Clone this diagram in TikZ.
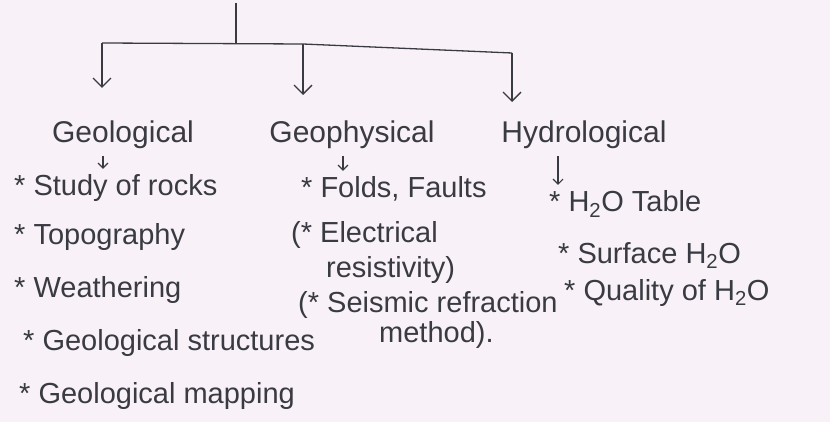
\documentclass[tikz,border=0pt]{standalone}
\usepackage{fontspec}
\setmainfont{Liberation Sans}
\usetikzlibrary{arrows.meta, positioning}
\definecolor{paperbg}{HTML}{F8F2F8}
\definecolor{inkcol}{HTML}{3A3A42}

\begin{document}
\begin{tikzpicture}[
    x=1pt, y=-1pt,
    >={Straight Barb[length=9pt, width=18pt]},
    % 1. branch headings
    heading/.style={
        anchor=base,
        inner sep=1pt,
        text=inkcol,
        font=\fontsize{30}{34}\selectfont,
        text height=22pt,
        text depth=7pt
    },
    % 2. bullet items
    item/.style={
        anchor=base west,
        inner sep=1pt,
        text=inkcol,
        font=\fontsize{29}{33}\selectfont,
        text height=21pt,
        text depth=6pt
    },
    % tree lines
    treeline/.style={
        draw=inkcol,
        line width=1.3pt
    },
    treearrow/.style={
        ->,
        treeline
    },
    % short arrow under each heading
    smallarrow/.style={
        -{Straight Barb[length=5pt, width=10pt]},
        treeline,
        line width=1.1pt,
        shorten >=5pt,
        shorten <=5pt
    }
]

    % --- 0. page ---
    \fill[paperbg] (0,0) rectangle (830,422);
    \useasboundingbox (0,0) rectangle (830,422);

    % --- 1. tree skeleton ---
    \coordinate (top)   at (236,3);
    \coordinate (fork)  at (236,43);
    \coordinate (geoj)  at (102,43);
    \coordinate (physj) at (303,44);
    \coordinate (hydj)  at (512,53);
    \coordinate (geoa)  at (102,88);
    \coordinate (physa) at (303,95);
    \coordinate (hyda)  at (512,102);

    % --- 2. headings ---
    \node[heading] (geol) at (123,143) {Geological};
    \node[heading] (phys) at (352,143) {Geophysical};
    \node[heading] (hydr) at (584,143) {Hydrological};

    % --- 3. items ---
    % Geological
    \node[item] (rocks)  at (13,196)  {* Study of rocks};
    \node[item] (topo)   at (13,244)  {* Topography};
    \node[item] (weath)  at (13,297)  {* Weathering};
    \node[item] (struct) at (22,350)  {* Geological structures};
    \node[item] (mapp)   at (18,403)  {* Geological mapping};

    % Geophysical
    \node[item] (folds)  at (300,198) {* Folds, Faults};
    \node[item] (elec)   at (290,243) {(* Electrical};
    \node[item] (resist) at (325,277) {resistivity)};
    \node[item] (seism)  at (297,312) {(* Seismic refraction};
    \node[item] (meth)   at (378,342) {method).};

    % Hydrological
    \node[item] (table)  at (548,212) {* H\textsubscript{2}O Table};
    \node[item] (surf)   at (557,263) {* Surface H\textsubscript{2}O};
    \node[item] (qual)   at (563,300) {* Quality of H\textsubscript{2}O};

    % --- 4. connectors ---
    \draw[treeline] (top) -- (fork);
    \draw[treeline] (geoj) -- (physj) -- (hydj);
    \draw[treearrow] (geoj) -- (geoa);
    \draw[treearrow] (physj) -- (physa);
    \draw[treearrow] (hydj) -- (hyda);

    \draw[smallarrow] ([xshift=-20pt]geol.south) -- ([xshift=-20pt]geol.south |- rocks.north);
    \draw[smallarrow] ([xshift=-9pt]phys.south) -- ([xshift=-9pt]phys.south |- folds.north);
    \draw[smallarrow] ([xshift=-26pt]hydr.south) -- ([xshift=-26pt]hydr.south |- table.north);

\end{tikzpicture}
\end{document}
